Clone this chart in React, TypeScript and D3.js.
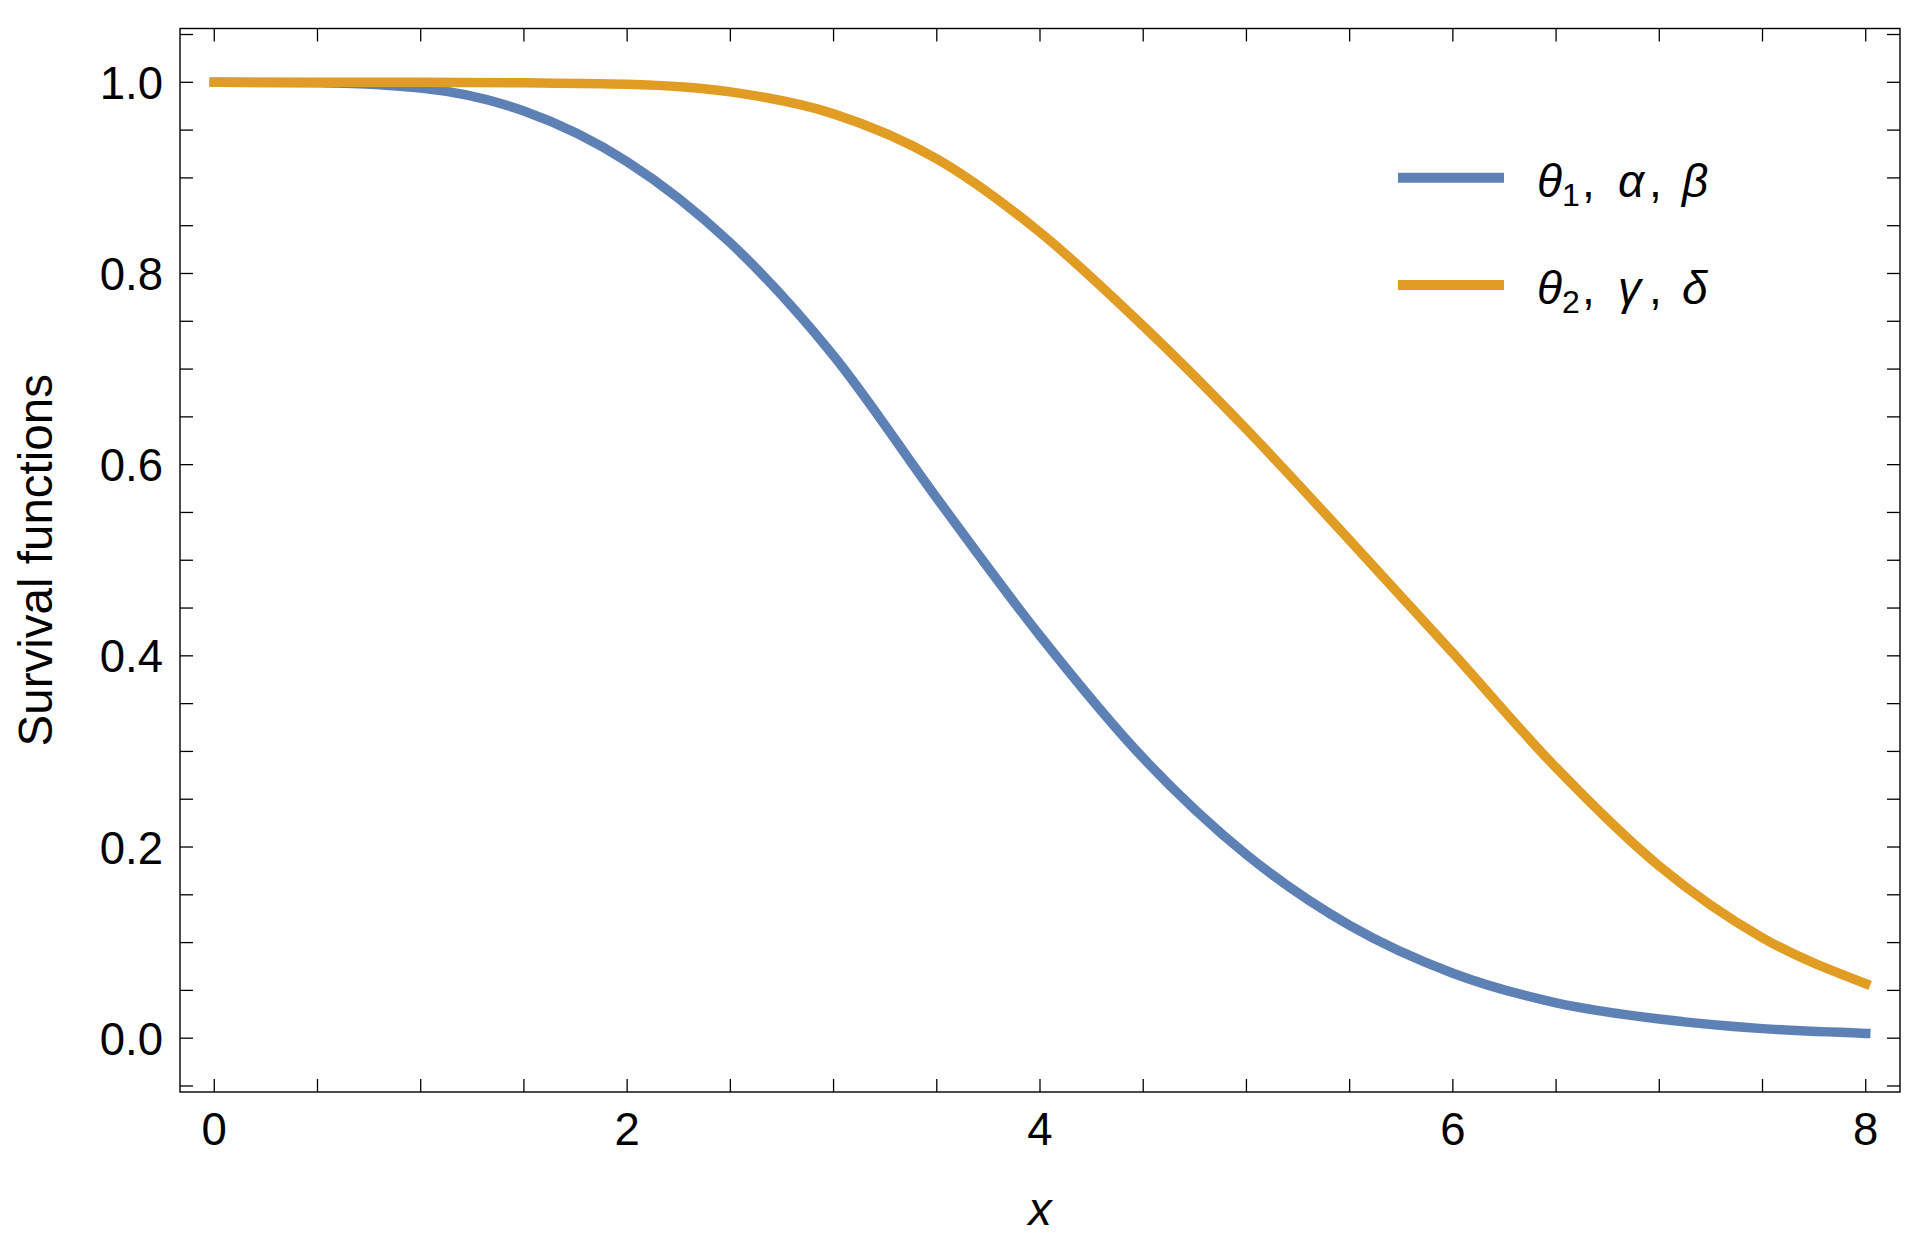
import React, { useEffect } from 'react';
import * as d3 from 'd3';

const xs = [0, 0.5, 1, 1.5, 2, 2.5, 3, 3.5, 4, 4.5, 5, 5.5, 6, 6.5, 7, 7.5, 8];
const blueVals = [1.0, 0.9995, 0.994, 0.97, 0.917, 0.832, 0.714, 0.565, 0.421, 0.293, 0.192, 0.118, 0.068, 0.037, 0.02, 0.01, 0.005];
const orangeVals = [1.0, 1.0, 1.0, 0.9995, 0.998, 0.99, 0.967, 0.92, 0.843, 0.745, 0.637, 0.521, 0.403, 0.283, 0.18, 0.105, 0.057];

const xTickLabels = [0, 2, 4, 6, 8];
const yTickLabels = [0, 0.2, 0.4, 0.6, 0.8, 1.0];

const series = [
  { key: 'blue', color: '#5E81B5', values: blueVals, label: ['θ', '1', 'α', 'β'] },
  { key: 'orange', color: '#E19C24', values: orangeVals, label: ['θ', '2', 'γ', 'δ'] },
];

const W = 1928;
const H = 1255;
const left = 180, right = 1900, top = 28.5, bottom = 1092;
const FONT = '"Liberation Sans", Arial, sans-serif';
const TICK = 13;

export default function App() {
  useEffect(() => {
    document.body.style.margin = '0';
  }, []);

  const x = d3.scaleLinear().domain([-0.166, 8.166]).range([left, right]);
  const y = d3.scaleLinear().domain([-0.0563, 1.0563]).range([bottom, top]);

  const line = d3.line<number>()
    .x((_, i) => x(xs[i]))
    .y(d => y(d))
    .curve(d3.curveMonotoneX);

  const xMinor = d3.range(0, 8.001, 0.5);
  const yMinor = d3.range(-0.05, 1.0501, 0.05);
  const fmt = d3.format('.1f');
  const lx = 1537;

  return (
    <svg width={W} height={H} style={{ position: 'absolute', left: 0, top: 0, background: '#fff' }}>
      <rect x={0} y={0} width={W} height={H} fill="#fff" />

      {/* curves */}
      <g fill="none">
        {series.map(s => (
          <path key={s.key} d={line(s.values) || ''} stroke={s.color} strokeWidth={9.5} strokeLinecap="square" strokeLinejoin="round" />
        ))}
      </g>

      {/* frame */}
      <rect x={left} y={top} width={right - left} height={bottom - top} fill="none" stroke="#000" strokeWidth={1.4} />

      {/* ticks, all four sides, inward */}
      <g stroke="#000" strokeWidth={1.3}>
        {xMinor.map(v => (
          <g key={'x' + v}>
            <line x1={x(v)} x2={x(v)} y1={bottom} y2={bottom - TICK} />
            <line x1={x(v)} x2={x(v)} y1={top} y2={top + TICK} />
          </g>
        ))}
        {yMinor.map(v => (
          <g key={'y' + v}>
            <line x1={left} x2={left + TICK} y1={y(v)} y2={y(v)} />
            <line x1={right} x2={right - TICK} y1={y(v)} y2={y(v)} />
          </g>
        ))}
      </g>

      {/* tick labels */}
      <g fontFamily={FONT} fontSize={45.5} fill="#000">
        {xTickLabels.map(v => (
          <text key={'xl' + v} x={x(v)} y={1145} textAnchor="middle">{v}</text>
        ))}
        {yTickLabels.map(v => (
          <text key={'yl' + v} x={163} y={y(v) + 16.5} textAnchor="end">{fmt(v)}</text>
        ))}
      </g>

      {/* axis labels */}
      <text x={(left + right) / 2} y={1225} textAnchor="middle" fontFamily={FONT} fontSize={47} fontStyle="italic">x</text>
      <text transform={`translate(52, ${(top + bottom) / 2}) rotate(-90)`} textAnchor="middle" fontFamily={FONT} fontSize={47.5}>Survival functions</text>

      {/* legend */}
      <g fontFamily={FONT} fontSize={46}>
        {series.map((s, i) => {
          const ly = 177.7 + i * 107.3;
          const by = ly + 19;
          return (
            <g key={'lg' + s.key}>
              <line x1={1398} x2={1504} y1={ly} y2={ly} stroke={s.color} strokeWidth={10} />
              <text y={by} fill="#000">
                <tspan x={lx} fontStyle="italic">{s.label[0]}</tspan>
                <tspan fontSize={32} dy={9}>{s.label[1]}</tspan>
                <tspan x={lx + 45} y={by}>,</tspan>
                <tspan x={lx + 81} fontStyle="italic">{s.label[2]}</tspan>
                <tspan x={lx + 112}>,</tspan>
                <tspan x={lx + 145} fontStyle="italic">{s.label[3]}</tspan>
              </text>
            </g>
          );
        })}
      </g>
    </svg>
  );
}
